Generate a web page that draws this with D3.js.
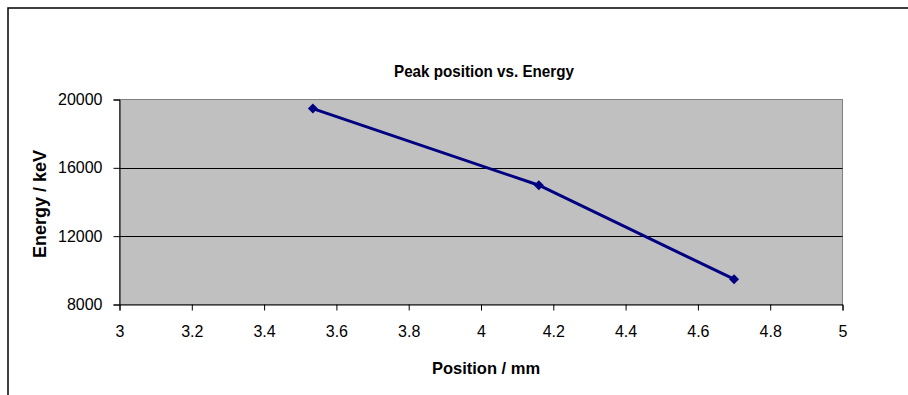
<!DOCTYPE html>
<html>
<head>
<meta charset="utf-8">
<script src="https://cdn.jsdelivr.net/npm/d3@7"></script>
<style>
  body { margin: 0; background: #fff; }
  text { font-family: "Liberation Sans", Arial, sans-serif; }
</style>
</head>
<body>
<script>
// data
var positions = [3.535, 4.16, 4.70];
var energies = [19470, 14980, 9480];
var xTicks = [3, 3.2, 3.4, 3.6, 3.8, 4, 4.2, 4.4, 4.6, 4.8, 5];
var yTicks = [8000, 12000, 16000, 20000];

var W = 908, H = 395;
var plot = {left: 119.5, top: 99.5, right: 842.5, bottom: 304.5};

var svg = d3.select("body").append("svg")
    .attr("width", W)
    .attr("height", H);

// outer chart frame (runs off the right and bottom)
svg.append("rect")
    .attr("x", 8).attr("y", 8)
    .attr("width", W + 20).attr("height", H + 20)
    .attr("fill", "#fff")
    .attr("stroke", "#000").attr("stroke-width", 1.5);

var x = d3.scaleLinear().domain([3, 5]).range([plot.left, plot.right]);
var y = d3.scaleLinear().domain([8000, 20000]).range([plot.bottom, plot.top]);

// plot area
svg.append("rect")
    .attr("x", plot.left).attr("y", plot.top)
    .attr("width", plot.right - plot.left).attr("height", plot.bottom - plot.top)
    .attr("fill", "#c0c0c0")
    .attr("stroke", "#808080").attr("stroke-width", 1);

// gridlines
svg.selectAll("line.grid").data([12000, 16000]).enter().append("line")
    .attr("class", "grid")
    .attr("x1", plot.left).attr("x2", plot.right)
    .attr("y1", d => Math.round(y(d)) + 0.5).attr("y2", d => Math.round(y(d)) + 0.5)
    .attr("stroke", "#000").attr("stroke-width", 1);

var xAxis = d3.axisBottom(x).tickValues(xTicks).tickSize(6).tickPadding(15)
    .tickFormat(d3.format("~g"));
var yAxis = d3.axisLeft(y).tickValues(yTicks).tickSize(6).tickPadding(11)
    .tickFormat(d3.format("d"));

var gx = svg.append("g").attr("transform", "translate(0," + plot.bottom + ")").call(xAxis);
var gy = svg.append("g").attr("transform", "translate(" + plot.left + ",0)").call(yAxis);

[gx, gy].forEach(g => {
    g.select(".domain").attr("stroke", "#000");
    g.selectAll(".tick line").attr("stroke", "#000");
    g.selectAll(".tick text")
        .attr("font-family", "'Liberation Sans', Arial, sans-serif")
        .attr("font-size", 16).attr("fill", "#000");
});

// series line + diamonds
var pts = positions.map((p, i) => [p, energies[i]]);

svg.append("path")
    .datum(pts)
    .attr("fill", "none")
    .attr("stroke", "#000080")
    .attr("stroke-width", 3)
    .attr("d", d3.line().x(d => x(d[0])).y(d => y(d[1])));

svg.selectAll("path.marker").data(pts).enter().append("path")
    .attr("class", "marker")
    .attr("transform", d => "translate(" + x(d[0]) + "," + y(d[1]) + ") rotate(45)")
    .attr("d", d3.symbol().type(d3.symbolSquare).size(50))
    .attr("fill", "#000080");

// titles
svg.append("text")
    .attr("x", 484).attr("y", 77)
    .attr("text-anchor", "middle")
    .attr("font-size", 17).attr("font-weight", "bold")
    .attr("textLength", 180).attr("lengthAdjust", "spacingAndGlyphs")
    .text("Peak position vs. Energy");

svg.append("text")
    .attr("x", 486).attr("y", 374)
    .attr("text-anchor", "middle")
    .attr("font-size", 16.5).attr("font-weight", "bold")
    .text("Position / mm");

svg.append("text")
    .attr("transform", "translate(46,204) rotate(-90)")
    .attr("text-anchor", "middle")
    .attr("font-size", 18).attr("font-weight", "bold")
    .text("Energy / keV");
</script>
</body>
</html>
